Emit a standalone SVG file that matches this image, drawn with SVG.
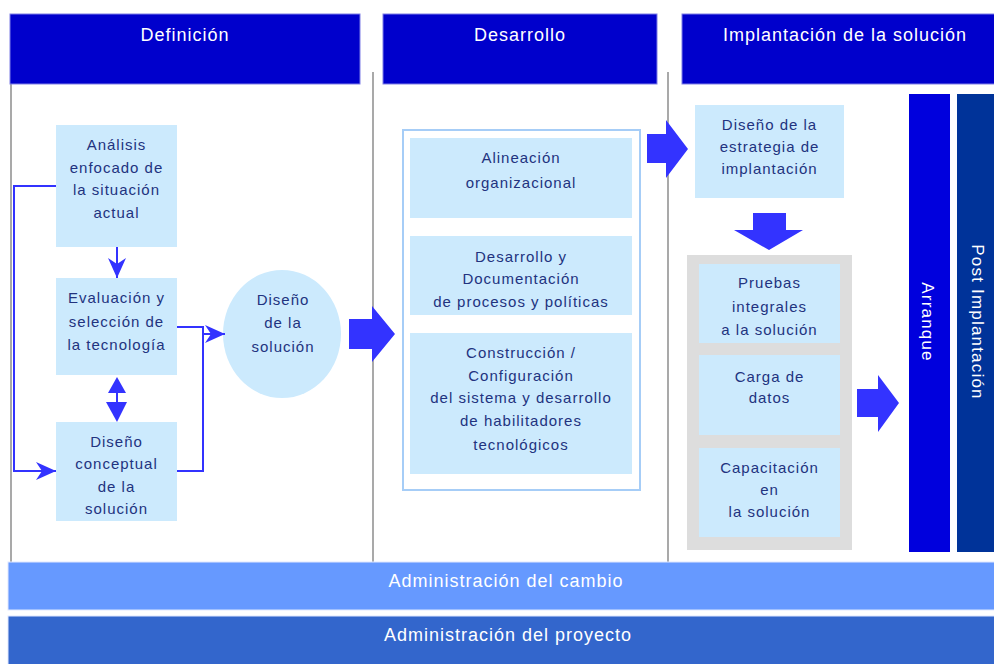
<svg xmlns="http://www.w3.org/2000/svg" width="994" height="664" viewBox="0 0 994 664">
<style>
.hdr{fill:#0000cc;stroke:#7f7fe6;stroke-width:1}
.ht{font-family:"Liberation Sans",Arial,sans-serif;font-size:18px;letter-spacing:1px;fill:#ffffff;text-anchor:middle}
.box{fill:#cceafd}
.bt{font-family:"Liberation Sans",Arial,sans-serif;font-size:15px;letter-spacing:1px;fill:#22337f;text-anchor:middle}
.sep{stroke:#8c8c8c;stroke-width:1.5;fill:none}
.con{stroke:#3333ff;stroke-width:2;fill:none}
.blk{fill:#3333ff}
.vt{font-family:"Liberation Sans",Arial,sans-serif;font-size:17px;letter-spacing:1.2px;fill:#ffffff;text-anchor:middle}
.bar{font-family:"Liberation Sans",Arial,sans-serif;font-size:18px;letter-spacing:1px;fill:#ffffff;text-anchor:middle}
</style>
<defs>
<marker id="ah" markerUnits="userSpaceOnUse" markerWidth="20" markerHeight="18" viewBox="0 0 20 18" refX="20" refY="9" orient="auto">
<path d="M0,0 L20,9 L0,18 L6,9 Z" fill="#3333ff"/>
</marker>
</defs>
<rect width="994" height="664" fill="#ffffff"/>

<g id="separators">
<line class="sep" x1="11" y1="84" x2="11" y2="562"/>
<line class="sep" x1="373" y1="72" x2="373" y2="562"/>
<line class="sep" x1="668" y1="72" x2="668" y2="562"/>
</g>

<g id="hdr-definicion"><rect class="hdr" x="10" y="14" width="350" height="70"/><text class="ht" x="185" y="41">Definición</text></g>
<g id="hdr-desarrollo"><rect class="hdr" x="383" y="14" width="274" height="70"/><text class="ht" x="520" y="41">Desarrollo</text></g>
<g id="hdr-implantacion"><rect class="hdr" x="682" y="14" width="326" height="70"/><text class="ht" x="845" y="41">Implantación de la solución</text></g>

<g id="n-analisis"><rect class="box" x="56" y="125" width="121" height="122"/>
<text class="bt" x="116.5" y="150">Análisis</text><text class="bt" x="116.5" y="173">enfocado de</text><text class="bt" x="116.5" y="195">la situación</text><text class="bt" x="116.5" y="218">actual</text></g>
<g id="n-evaluacion"><rect class="box" x="56" y="278" width="121" height="97"/>
<text class="bt" x="116.5" y="303">Evaluación y</text><text class="bt" x="116.5" y="327">selección de</text><text class="bt" x="116.5" y="350">la tecnología</text></g>
<g id="n-conceptual"><rect class="box" x="56" y="422" width="121" height="99"/>
<text class="bt" x="116.5" y="447">Diseño</text><text class="bt" x="116.5" y="469">conceptual</text><text class="bt" x="116.5" y="492">de la</text><text class="bt" x="116.5" y="514">solución</text></g>
<g id="n-diseno"><ellipse class="box" cx="282" cy="334" rx="59" ry="64"/>
<text class="bt" x="283" y="305">Diseño</text><text class="bt" x="283" y="328">de la</text><text class="bt" x="283" y="352">solución</text></g>

<g id="n-desarrollo-group"><rect x="403" y="130" width="237" height="360" fill="#ffffff" stroke="#a6cdf7" stroke-width="2"/></g>
<g id="n-alineacion"><rect class="box" x="410" y="138" width="222" height="80"/>
<text class="bt" x="521" y="163">Alineación</text><text class="bt" x="521" y="188">organizacional</text></g>
<g id="n-documentacion"><rect class="box" x="410" y="236" width="222" height="79"/>
<text class="bt" x="521" y="262">Desarrollo y</text><text class="bt" x="521" y="284">Documentación</text><text class="bt" x="521" y="307">de procesos y políticas</text></g>
<g id="n-construccion"><rect class="box" x="410" y="333" width="222" height="141"/>
<text class="bt" x="521" y="358">Construcción /</text><text class="bt" x="521" y="381">Configuración</text><text class="bt" x="521" y="403">del sistema y desarrollo</text><text class="bt" x="521" y="426">de habilitadores</text><text class="bt" x="521" y="450">tecnológicos</text></g>

<g id="n-estrategia"><rect class="box" x="695" y="105" width="149" height="93"/>
<text class="bt" x="769.5" y="130">Diseño de la</text><text class="bt" x="769.5" y="152">estrategia de</text><text class="bt" x="769.5" y="174">implantación</text></g>
<g id="n-pruebas-group"><rect x="687" y="255" width="165" height="295" fill="#dddddd"/></g>
<g id="n-pruebas"><rect class="box" x="699" y="264" width="141" height="79"/>
<text class="bt" x="769.5" y="288">Pruebas</text><text class="bt" x="769.5" y="312">integrales</text><text class="bt" x="769.5" y="335">a la solución</text></g>
<g id="n-carga"><rect class="box" x="699" y="355" width="141" height="80"/>
<text class="bt" x="769.5" y="382">Carga de</text><text class="bt" x="769.5" y="403">datos</text></g>
<g id="n-capacitacion"><rect class="box" x="699" y="448" width="141" height="89"/>
<text class="bt" x="769.5" y="473">Capacitación</text><text class="bt" x="769.5" y="495">en</text><text class="bt" x="769.5" y="517">la solución</text></g>

<g id="n-arranque"><rect x="909" y="94" width="41" height="458" fill="#0000dd"/>
<text class="vt" transform="translate(928,322) rotate(90)" x="0" y="6">Arranque</text></g>
<g id="n-post"><rect x="957" y="94" width="40" height="458" fill="#003399"/>
<text class="vt" transform="translate(978,322) rotate(90)" x="0" y="6">Post Implantación</text></g>

<g id="n-cambio"><rect x="8" y="562" width="990" height="48" fill="#6699ff" stroke="#dfe8ff" stroke-width="1"/>
<text class="bar" x="506" y="587">Administración del cambio</text></g>
<g id="n-proyecto"><rect x="8" y="616" width="990" height="50" fill="#3366cc" stroke="#dfe8ff" stroke-width="1"/>
<text class="bar" x="508" y="641">Administración del proyecto</text></g>

<g id="connectors">
<path class="con" d="M117,247 V278" marker-end="url(#ah)"/>
<path class="con" d="M56,186 H14 V471 H56" marker-end="url(#ah)"/>
<path class="con" d="M177,327 H203 V471 H177"/>
<path class="con" d="M202,334 H225" marker-end="url(#ah)"/>
<line class="con" x1="117" y1="390" x2="117" y2="405"/>
<polygon class="blk" points="117,377 126,393 108,393"/>
<polygon class="blk" points="106,402 127,402 117,422"/>
<polygon class="blk" points="349,319 372,319 372,306 395,334 372,362 372,349 349,349"/>
<polygon class="blk" points="647,134 666,134 666,120 688,149 666,178 666,163 647,163"/>
<polygon class="blk" points="753,213 786,213 786,230 803,230 769,250 734,230 753,230"/>
<polygon class="blk" points="857,389 878,389 878,375 899,403 878,432 878,417 857,417"/>
</g>
</svg>
